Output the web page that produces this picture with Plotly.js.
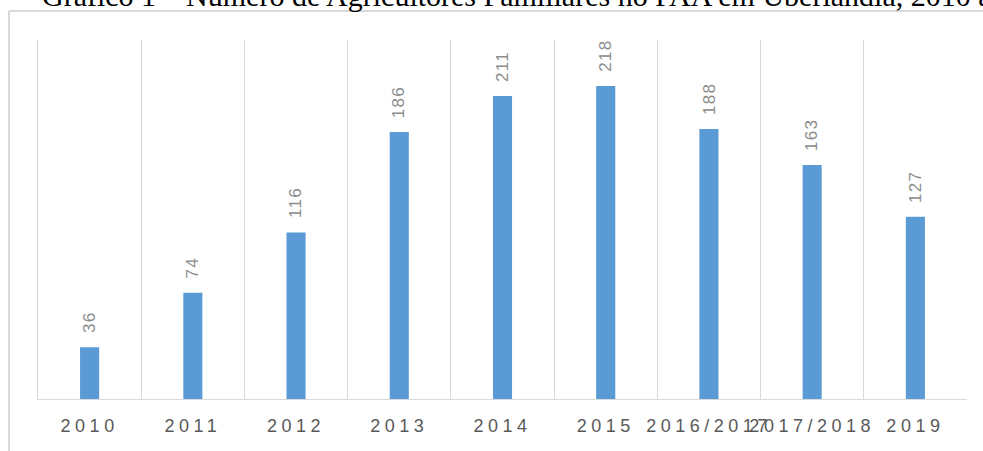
<!DOCTYPE html>
<html>
<head>
<meta charset="utf-8">
<script src="https://cdn.plot.ly/plotly-3.0.1.min.js"></script>
<style>
html, body { margin: 0; padding: 0; background: #fff; }
#chart { width: 983px; height: 451px; }
.xtick text { letter-spacing: 4.5px; }
.annotation-text { letter-spacing: 1.3px; }
</style>
</head>
<body>
<div id="chart"></div>
<script>
const categories = ["2010", "2011", "2012", "2013", "2014", "2015", "2016/2017", "2017/2018", "2019"];
const values = [36, 74, 116, 186, 211, 218, 188, 163, 127];
const titleText = "Gráfico 1 – Número de Agricultores Familiares no PAA em Uberlândia, 2010 a 2019";

const W = 983, H = 451;
const margin = { l: 38, r: 16, t: 40, b: 52 };
const plotW = W - margin.l - margin.r;
const plotH = H - margin.t - margin.b;

const labels = categories.map((c, i) => ({
  x: i, y: values[i], xref: "x", yref: "y",
  text: String(values[i]), showarrow: false,
  textangle: -90, yanchor: "bottom", xanchor: "center", yshift: 12,
  font: { family: "Liberation Sans, Arial, sans-serif", size: 17, color: "#8c8c8c" }
}));

const trace = {
  type: "bar",
  x: categories,
  y: values,
  width: 0.185,
  marker: { color: "#5b9bd5" },
  hoverinfo: "skip"
};

const layout = {
  width: W, height: H,
  margin: margin,
  paper_bgcolor: "#fff",
  plot_bgcolor: "#fff",
  showlegend: false,
  title: {
    text: titleText,
    font: { family: "Liberation Serif, Times New Roman, serif", size: 30, color: "#000" },
    x: 42 / W, xanchor: "left", xref: "container",
    y: 1 - 6 / H, yanchor: "bottom", yref: "container"
  },
  xaxis: {
    type: "category",
    tickson: "boundaries",
    showgrid: true, gridcolor: "#d9d9d9", gridwidth: 1,
    ticks: "", showline: true, linecolor: "#d9d9d9", linewidth: 1,
    mirror: false,
    tickfont: { family: "Liberation Sans, Arial, sans-serif", size: 18, color: "#595959" },
    ticklabelstandoff: 10,
    range: [-0.5, 8.5],
    fixedrange: true
  },
  yaxis: {
    range: [0, 250],
    showgrid: false, zeroline: false, showticklabels: false, ticks: "",
    showline: true, linecolor: "#d9d9d9", linewidth: 1,
    fixedrange: true
  },
  annotations: labels,
  shapes: [
    { type: "line", xref: "paper", yref: "paper",
      x0: (9 - margin.l) / plotW, x1: (9 - margin.l) / plotW,
      y0: (H - margin.b - 11) / plotH, y1: -(H - margin.b) / plotH,
      line: { color: "#d9d9d9", width: 2 } },
    { type: "line", xref: "paper", yref: "paper",
      x0: (9 - margin.l) / plotW, x1: (W - margin.l + 5) / plotW,
      y0: (H - margin.b - 11) / plotH, y1: (H - margin.b - 11) / plotH,
      line: { color: "#d9d9d9", width: 2 } }
  ]
};

Plotly.newPlot("chart", [trace], layout, { displayModeBar: false, staticPlot: true });
</script>
</body>
</html>
